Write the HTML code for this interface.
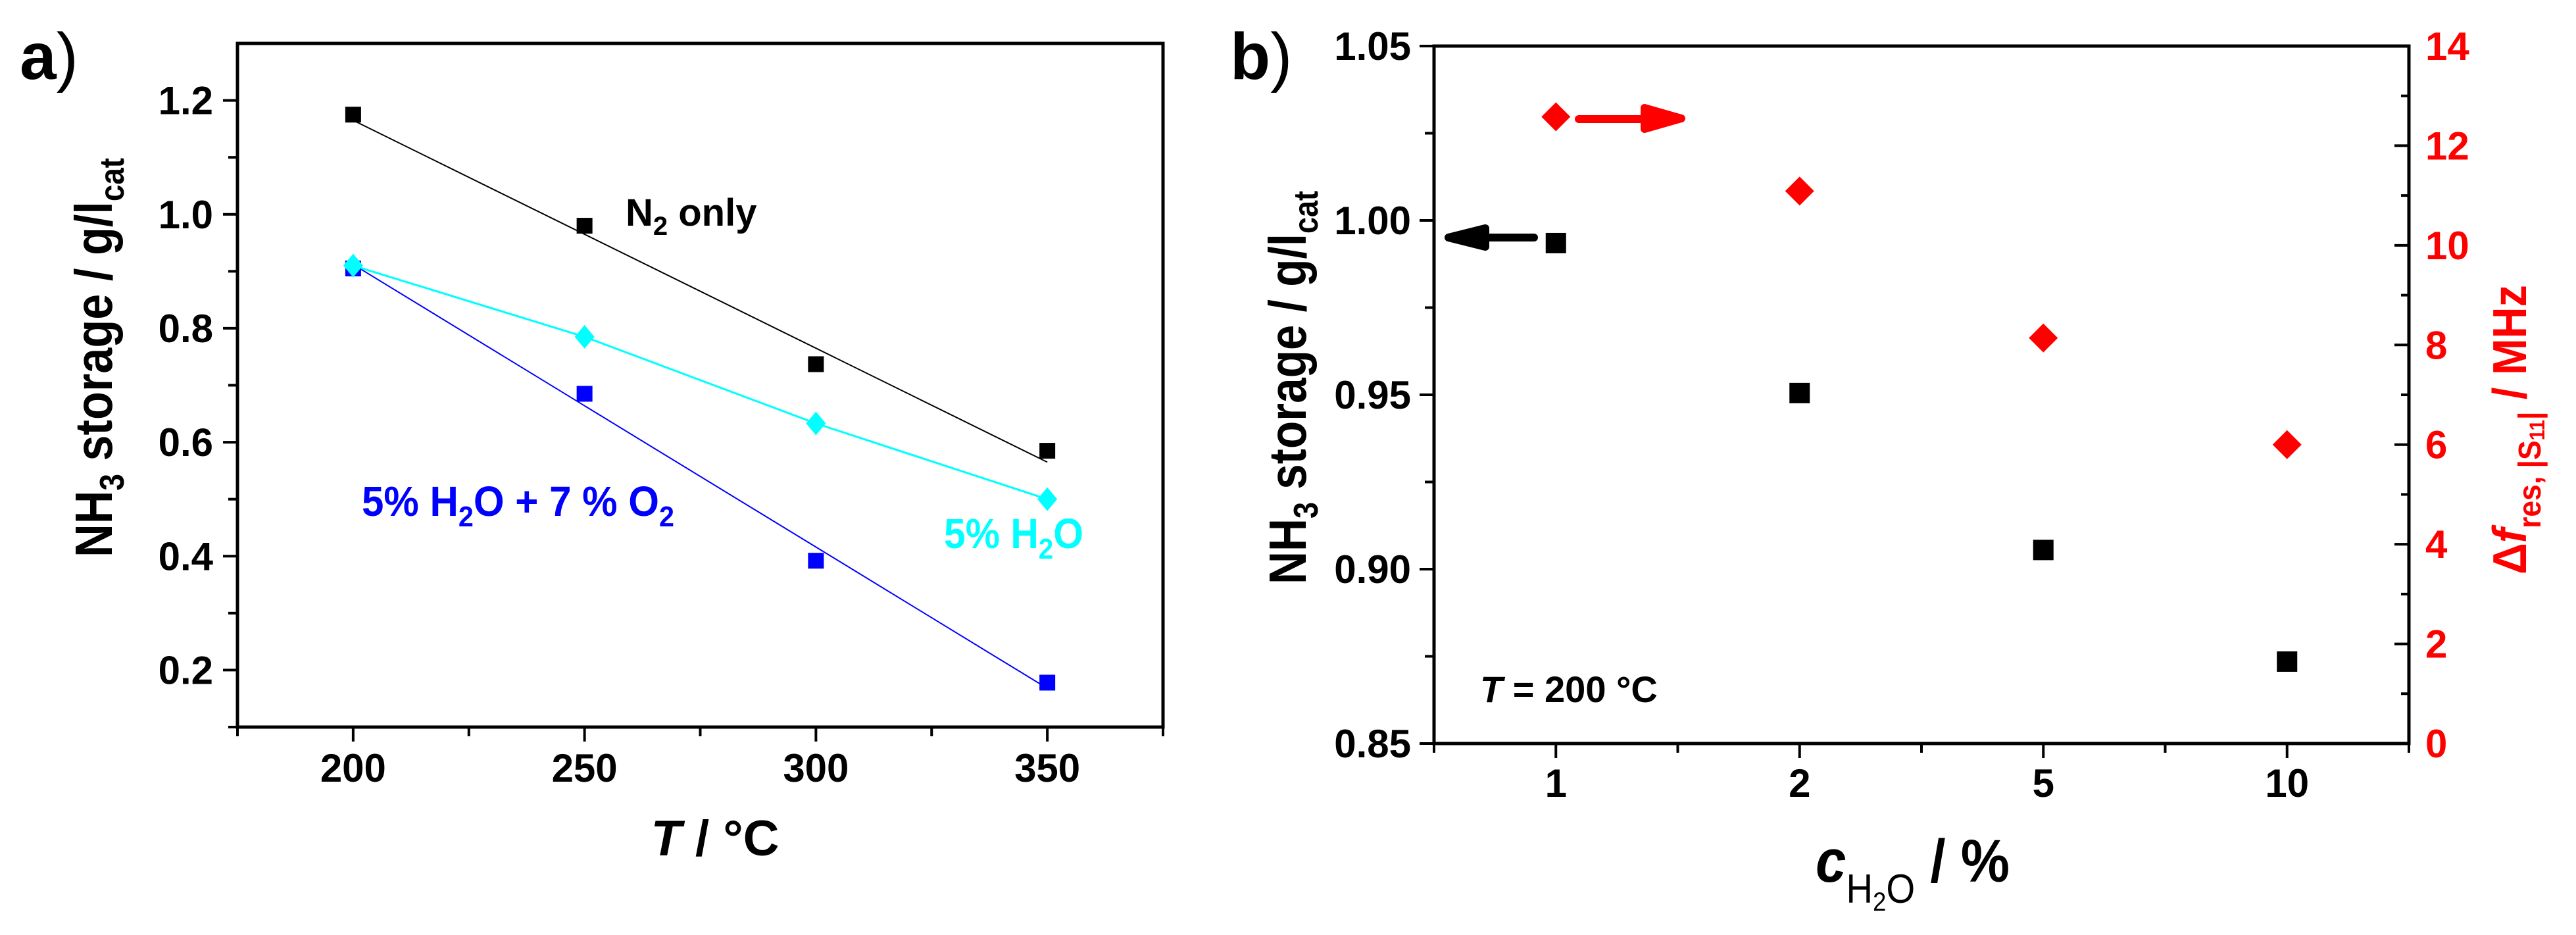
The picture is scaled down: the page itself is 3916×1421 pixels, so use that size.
<!DOCTYPE html>
<html><head><meta charset="utf-8"><style>
html,body{margin:0;padding:0;background:#fff}
svg{display:block}
text{font-family:"Liberation Sans",Arial,sans-serif;font-weight:bold}
</style></head><body>
<svg id="c" xmlns="http://www.w3.org/2000/svg" width="3916" height="1421" viewBox="0 0 3916 1421">
<rect width="3916" height="1421" fill="#fff"/>
<g id="pa"></g>
<g id="pb"></g>
<text x="30" y="120" font-size="100">a<tspan font-weight="normal">)</tspan></text>
<text x="1870" y="120" font-size="100">b<tspan font-weight="normal">)</tspan></text>
<text transform="translate(170,847) rotate(-90)" font-size="80" textLength="607" lengthAdjust="spacingAndGlyphs">NH<tspan font-size="52" dy="18">3</tspan><tspan dy="-18"> storage / g/l</tspan><tspan font-size="52" dy="18">cat</tspan></text>
<text x="1087" y="1300" font-size="76" text-anchor="middle"><tspan font-style="italic">T</tspan> / °C</text>
<text x="951" y="343" font-size="58">N<tspan font-size="40" dy="14">2</tspan><tspan dy="-14"> only</tspan></text>
<text x="550" y="784" font-size="64" fill="#0000ff" textLength="475" lengthAdjust="spacingAndGlyphs">5% H<tspan font-size="44" dy="16">2</tspan><tspan dy="-16">O + 7 % O</tspan><tspan font-size="44" dy="16">2</tspan></text>
<text x="1435" y="833" font-size="64" fill="#00ffff" textLength="212" lengthAdjust="spacingAndGlyphs">5% H<tspan font-size="44" dy="16">2</tspan><tspan dy="-16">O</tspan></text>
<text transform="translate(1985,888) rotate(-90)" font-size="80" textLength="598" lengthAdjust="spacingAndGlyphs">NH<tspan font-size="52" dy="18">3</tspan><tspan dy="-18"> storage / g/l</tspan><tspan font-size="52" dy="18">cat</tspan></text>
<text transform="translate(3840,873) rotate(-90)" font-size="72" fill="#ff0000" textLength="440" lengthAdjust="spacingAndGlyphs">Δ<tspan font-style="italic">f</tspan><tspan font-size="48" dy="22">res, |S</tspan><tspan font-size="32" dy="6">11</tspan><tspan font-size="48" dy="-6">|</tspan><tspan dy="-22"> / MHz</tspan></text>
<text x="2760" y="1340" font-size="92" textLength="295" lengthAdjust="spacingAndGlyphs"><tspan font-style="italic">c</tspan><tspan font-size="62" font-weight="normal" dy="32">H</tspan><tspan font-size="40" font-weight="normal" dy="12">2</tspan><tspan font-size="62" font-weight="normal" dy="-12">O</tspan><tspan dy="-32"> / %</tspan></text>
<text x="2250" y="1067" font-size="56"><tspan font-style="italic">T</tspan> = 200 °C</text>
</svg>
<script>
// Panel a data
const aTemps=[200,250,300,350];
const aN2=[1.175,0.98,0.737,0.585];
const aN2Fit=[1.165,0.565];
const aH2O=[0.91,0.785,0.633,0.5];
const aH2OO2=[0.905,0.685,0.392,0.178];
const aH2OO2Fit=[0.912,0.168];
const aXTicks=[200,250,300,350];
const aYTicks=[0.2,0.4,0.6,0.8,1.0,1.2];
// Panel b data
const bCats=["1","2","5","10"];
const bStorage=[0.9935,0.9505,0.9055,0.8735];
const bShift=[12.58,11.09,8.14,6.0];
const bYLeftTicks=[0.85,0.90,0.95,1.00,1.05];
const bYRightTicks=[0,2,4,6,8,10,12,14];

const NS="http://www.w3.org/2000/svg";
function mk(p,tag,at){const e=document.createElementNS(NS,tag);for(const k in at)e.setAttribute(k,at[k]);p.appendChild(e);return e;}
const pa=document.getElementById('pa'),pb=document.getElementById('pb');

// axes a
const aL=361,aR=1768,aT=66,aB=1105,ax0=175,ax1=375,ay0=0.1,ay1=1.3;
const ax=v=>aL+(v-ax0)/(ax1-ax0)*(aR-aL);
const ay=v=>aB-(v-ay0)/(ay1-ay0)*(aB-aT);
let f=mk(pa,'rect',{x:aL,y:aT,width:aR-aL,height:aB-aT,fill:'none',stroke:'#000','stroke-width':5});

for(let v=175;v<=375;v+=25){const major=aXTicks.includes(v);const t=mk(pa,'line',{x1:ax(v),x2:ax(v),y1:aB,y2:aB+(major?22:14),stroke:'#000','stroke-width':4});
}
aXTicks.forEach(v=>{const t=mk(pa,'text',{x:ax(v),y:1188,'font-size':60,'text-anchor':'middle'});t.textContent=v;
});
for(let i=1;i<=12;i++){const v=i/10;const major=i%2===0;const t=mk(pa,'line',{x1:aL,x2:aL-(major?22:14),y1:ay(v),y2:ay(v),stroke:'#000','stroke-width':4});
}
aYTicks.forEach(v=>{const t=mk(pa,'text',{x:324,y:ay(v)+21,'font-size':60,'text-anchor':'end'});t.textContent=v.toFixed(1);
});
// lines
let l=mk(pa,'line',{x1:ax(200),y1:ay(aN2Fit[0]),x2:ax(350),y2:ay(aN2Fit[1]),stroke:'#000','stroke-width':2});

l=mk(pa,'line',{x1:ax(200),y1:ay(aH2OO2Fit[0]),x2:ax(350),y2:ay(aH2OO2Fit[1]),stroke:'#0000ff','stroke-width':2});

l=mk(pa,'polyline',{points:aTemps.map((t,i)=>ax(t)+','+ay(aH2O[i])).join(' '),fill:'none',stroke:'#00ffff','stroke-width':3});

function sq(p,x,y,s,c,name){const r=mk(p,'rect',{x:x-s/2,y:y-s/2,width:s,height:s,fill:c});}
function dm(p,x,y,w,h,c,name){const r=mk(p,'polygon',{points:`${x},${y-h/2} ${x+w/2},${y} ${x},${y+h/2} ${x-w/2},${y}`,fill:c});}
aTemps.forEach((t,i)=>{sq(pa,ax(t),ay(aN2[i]),24,'#000','point-n2');sq(pa,ax(t),ay(aH2OO2[i]),24,'#0000ff','point-h2o-o2');});
aTemps.forEach((t,i)=>dm(pa,ax(t),ay(aH2O[i]),30,36,'#00ffff','point-h2o'));

// axes b
const bL=2180,bR=3662,bT=70,bB=1130;
const bx=i=>bL+(i+0.5)/4*(bR-bL);
const byL=v=>bB-(v-0.85)/0.2*(bB-bT);
const byR=v=>bB-v/14*(bB-bT);
f=mk(pb,'rect',{x:bL,y:bT,width:bR-bL,height:bB-bT,fill:'none',stroke:'#000','stroke-width':5});

for(let k=0;k<=8;k++){const x=bL+k/8*(bR-bL);const major=k%2===1;const t=mk(pb,'line',{x1:x,x2:x,y1:bB,y2:bB+(major?22:14),stroke:'#000','stroke-width':4});
}
bCats.forEach((c,i)=>{const t=mk(pb,'text',{x:bx(i),y:1211,'font-size':60,'text-anchor':'middle'});t.textContent=c;
});
for(let k=0;k<=8;k++){const v=0.85+k*0.025;const major=k%2===0;const t=mk(pb,'line',{x1:bL,x2:bL-(major?22:14),y1:byL(v),y2:byL(v),stroke:'#000','stroke-width':4});
}
bYLeftTicks.forEach(v=>{const t=mk(pb,'text',{x:2145,y:byL(v)+21,'font-size':60,'text-anchor':'end'});t.textContent=v.toFixed(2);
});
for(let v=0;v<=14;v++){const major=v%2===0;const t=mk(pb,'line',{x1:bR,x2:bR-(major?22:12),y1:byR(v),y2:byR(v),stroke:'#000','stroke-width':4});
}
bYRightTicks.forEach(v=>{const t=mk(pb,'text',{x:3687,y:byR(v)+21,'font-size':60,fill:'#ff0000'});t.textContent=v;
});
bCats.forEach((c,i)=>{sq(pb,bx(i),byL(bStorage[i]),31,'#000','point-storage');dm(pb,bx(i),byR(bShift[i]),44,44,'#ff0000','point-frequency-shift');});
// arrows
let a=mk(pb,'path',{d:'M2332,361 L2255,361 M2258,347 L2202,361 L2258,375 Z',stroke:'#000','stroke-width':12,'stroke-linecap':'round','stroke-linejoin':'round',fill:'#000'});

a=mk(pb,'path',{d:'M2400,181 L2500,181 M2500,164 L2556,180 L2500,196 Z',stroke:'#ff0000','stroke-width':12,'stroke-linecap':'round','stroke-linejoin':'round',fill:'#ff0000'});

</script>
</body></html>
